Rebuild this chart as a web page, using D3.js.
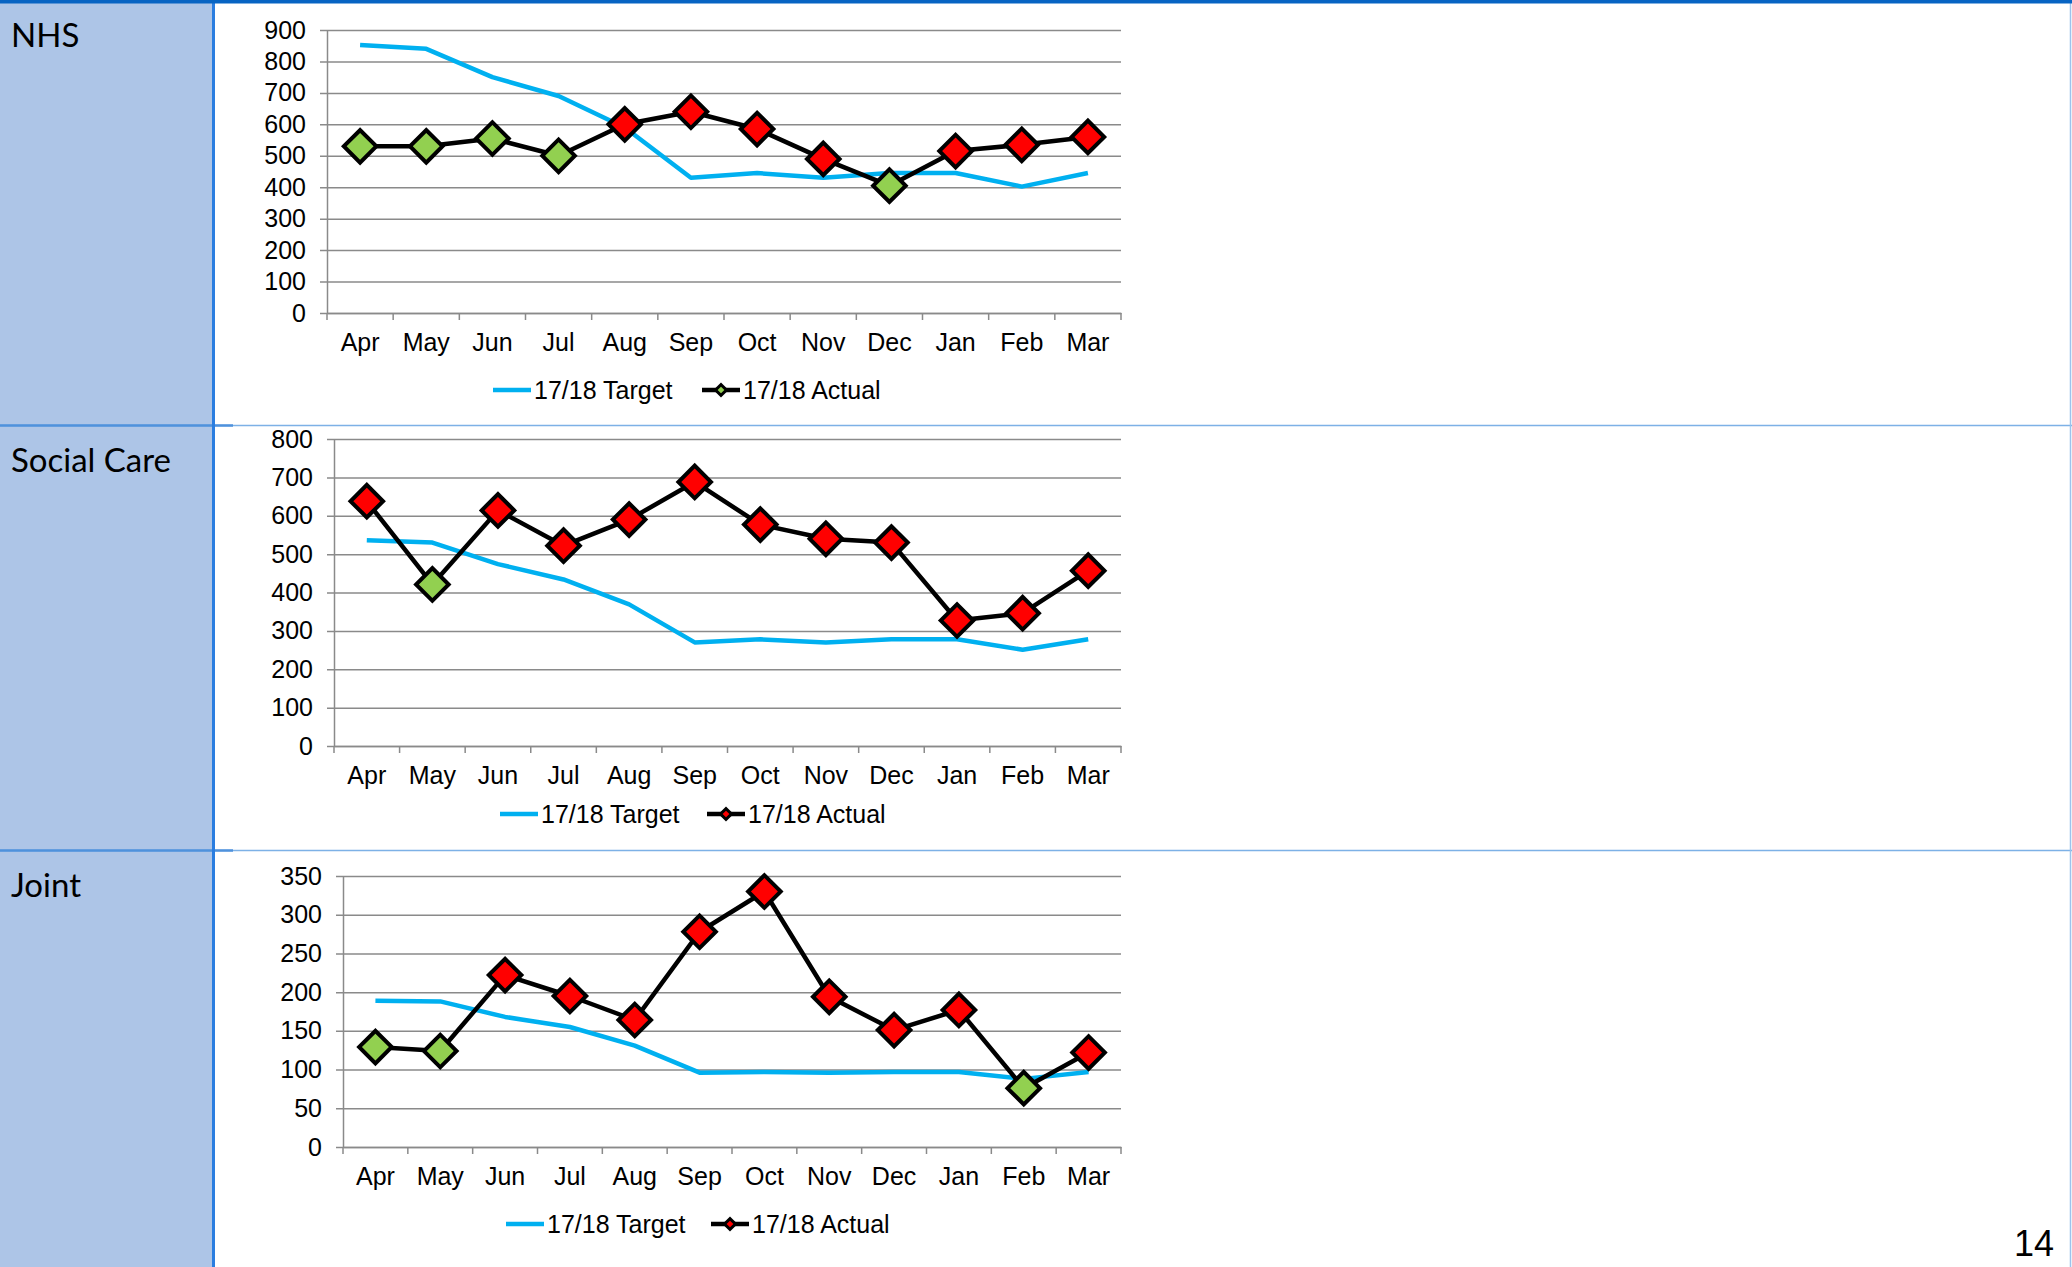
<!DOCTYPE html>
<html>
<head>
<meta charset="utf-8">
<script src="https://cdn.jsdelivr.net/npm/d3@7"></script>
<style>
  html, body { margin: 0; padding: 0; background: #fff; }
  svg { display: block; }
  .tick text { font-family: "Liberation Sans", Arial, sans-serif; font-size: 25px; fill: #000; }
</style>
</head>
<body>
<svg id="slide"></svg>
<script>
// chart data
const months = ['Apr', 'May', 'Jun', 'Jul', 'Aug', 'Sep', 'Oct', 'Nov', 'Dec', 'Jan', 'Feb', 'Mar'];
const seriesNames = ['17/18 Target', '17/18 Actual'];
const sectionNames = ['NHS', 'Social Care', 'Joint'];

const nhsTarget = [852, 840, 750, 690, 590, 430, 445, 430, 445, 445, 402, 445];
const nhsActual = [530, 530, 555, 500, 600, 640, 585, 490, 405, 515, 535, 560];

const socialTarget = [536, 530, 474, 434, 369, 270, 278, 270, 278, 278, 251, 278];
const socialActual = [638, 421, 614, 522, 590, 688, 577, 540, 530, 327, 346, 457];

const jointTarget = [189, 188, 168, 155, 131, 96, 97, 96, 97, 97, 88, 97];
const jointActual = [129, 124, 222, 195, 164, 278, 330, 194, 151, 177, 76, 122];

const yMaxes = [900, 800, 350];
const yTicks = [
    [0, 100, 200, 300, 400, 500, 600, 700, 800, 900],
    [0, 100, 200, 300, 400, 500, 600, 700, 800],
    [0, 50, 100, 150, 200, 250, 300, 350]
];
const pageNumber = '14';

const GREEN = '#92d050';
const RED = '#ff0000';
const TARGET_BLUE = '#00b0f0';
const GRID = '#8a8a8a';

const W = 2072, H = 1267;

// layout of each panel (pixels)
const panels = [
    { name: sectionNames[0], target: nhsTarget, actual: nhsActual, yMax: yMaxes[0], ticks: yTicks[0],
      sectionTop: 0, top: 30, bottom: 313, left: 327, right: 1121,
      legendY: 399, tgtX: 493, actX: 702, legendFill: GREEN },
    { name: sectionNames[1], target: socialTarget, actual: socialActual, yMax: yMaxes[1], ticks: yTicks[1],
      sectionTop: 425, top: 439, bottom: 746, left: 334, right: 1121,
      legendY: 823, tgtX: 500, actX: 707, legendFill: RED },
    { name: sectionNames[2], target: jointTarget, actual: jointActual, yMax: yMaxes[2], ticks: yTicks[2],
      sectionTop: 850, top: 876, bottom: 1147, left: 343, right: 1121,
      legendY: 1233, tgtX: 506, actX: 711, legendFill: RED }
];

const svg = d3.select('#slide').attr('width', W).attr('height', H);

svg.append('rect').attr('width', W).attr('height', H).attr('fill', '#fff');

// left label column
svg.append('rect')
    .attr('x', 0).attr('y', 0).attr('width', 212).attr('height', H)
    .attr('fill', '#adc5e7');

// section dividers
[425.5, 850.5].forEach(y => {
    svg.append('line')
        .attr('x1', 0).attr('x2', W).attr('y1', y).attr('y2', y)
        .attr('stroke', '#7db1e6').attr('stroke-width', 1.5);
    svg.append('line')
        .attr('x1', 0).attr('x2', 233).attr('y1', y).attr('y2', y)
        .attr('stroke', '#4f92dc').attr('stroke-width', 2.5);
});

svg.append('line')
    .attr('x1', 213.5).attr('x2', 213.5).attr('y1', 0).attr('y2', H)
    .attr('stroke', '#2a7de0').attr('stroke-width', 3);

svg.append('line')
    .attr('x1', W - 1.5).attr('x2', W - 1.5).attr('y1', 0).attr('y2', H)
    .attr('stroke', '#9cc3ec').attr('stroke-width', 1.5);

svg.append('rect')
    .attr('x', 0).attr('y', 0).attr('width', W).attr('height', 3.5)
    .attr('fill', '#0764c3');

const diamond = d3.symbol().type(d3.symbolSquare);

panels.forEach(p => {
    svg.append('text')
        .attr('x', 11).attr('y', p.sectionTop + 47)
        .style('font-family', 'Lato, "Open Sans", sans-serif')
        .style('font-size', '33px')
        .attr('fill', '#000')
        .text(p.name);

    const x = d3.scaleBand().domain(months).range([p.left, p.right]);
    const y = d3.scaleLinear().domain([0, p.yMax]).range([p.bottom, p.top]);
    const cx = m => x(m) + x.bandwidth() / 2;

    const chart = svg.append('g');

    // y axis + gridlines
    const yAxis = d3.axisLeft(y)
        .tickValues(p.ticks)
        .tickSizeInner(-(p.right - p.left))
        .tickSizeOuter(0)
        .tickPadding(21)
        .tickFormat(d3.format('d'));

    const yg = chart.append('g')
        .attr('transform', `translate(${p.left},0)`)
        .call(yAxis);
    yg.select('.domain').attr('stroke', GRID).attr('stroke-width', 1.5);
    yg.selectAll('.tick line')
        .attr('x1', -7)
        .attr('stroke', GRID).attr('stroke-width', 1.5);

    // x axis: labels centred on the bands, ticks on the band edges
    const xAxis = d3.axisBottom(x).tickSize(0).tickPadding(20);
    const xg = chart.append('g')
        .attr('transform', `translate(0,${p.bottom})`)
        .call(xAxis);
    xg.select('.domain').attr('stroke', GRID).attr('stroke-width', 1.5);

    xg.selectAll('line.edge')
        .data(months.map(m => x(m)).concat([p.right]))
        .enter()
        .append('line')
        .attr('class', 'edge')
        .attr('x1', d => d).attr('x2', d => d)
        .attr('y1', 0).attr('y2', 7)
        .attr('stroke', GRID).attr('stroke-width', 1.5);

    // target line
    chart.append('path')
        .datum(p.target)
        .attr('d', d3.line()
            .x((d, i) => cx(months[i]))
            .y(d => y(d)))
        .attr('fill', 'none')
        .attr('stroke', TARGET_BLUE)
        .attr('stroke-width', 4.5)
        .attr('stroke-linejoin', 'round');

    // actual line
    chart.append('path')
        .datum(p.actual)
        .attr('d', d3.line()
            .x((d, i) => cx(months[i]))
            .y(d => y(d)))
        .attr('fill', 'none')
        .attr('stroke', '#000')
        .attr('stroke-width', 4.5)
        .attr('stroke-linejoin', 'round');

    // markers: green when at or under target, red when over
    chart.selectAll('path.marker')
        .data(p.actual)
        .enter()
        .append('path')
        .attr('class', 'marker')
        .attr('d', diamond.size(530))
        .attr('transform', (d, i) => `translate(${cx(months[i])},${y(d)}) rotate(45)`)
        .attr('fill', (d, i) => d <= p.target[i] ? GREEN : RED)
        .attr('stroke', '#000')
        .attr('stroke-width', 4)
        .attr('stroke-linejoin', 'miter');

    // legend
    const lg = chart.append('g')
        .style('font-family', '"Liberation Sans", Arial, sans-serif')
        .style('font-size', '25px');

    lg.append('line')
        .attr('x1', p.tgtX).attr('x2', p.tgtX + 38)
        .attr('y1', p.legendY - 9).attr('y2', p.legendY - 9)
        .attr('stroke', TARGET_BLUE).attr('stroke-width', 4.5);
    lg.append('text')
        .attr('x', p.tgtX + 41).attr('y', p.legendY)
        .text(seriesNames[0]);

    lg.append('line')
        .attr('x1', p.actX).attr('x2', p.actX + 38)
        .attr('y1', p.legendY - 9).attr('y2', p.legendY - 9)
        .attr('stroke', '#000').attr('stroke-width', 4.5);
    lg.append('path')
        .attr('d', d3.symbol().type(d3.symbolSquare).size(60)())
        .attr('transform', `translate(${p.actX + 19},${p.legendY - 9}) rotate(45)`)
        .attr('fill', p.legendFill)
        .attr('stroke', '#000')
        .attr('stroke-width', 3);
    lg.append('text')
        .attr('x', p.actX + 41).attr('y', p.legendY)
        .text(seriesNames[1]);
});

svg.append('text')
    .attr('x', 2054).attr('y', 1256)
    .attr('text-anchor', 'end')
    .style('font-family', '"Liberation Sans", Arial, sans-serif')
    .style('font-size', '36px')
    .attr('fill', '#000')
    .text(pageNumber);
</script>
</body>
</html>
